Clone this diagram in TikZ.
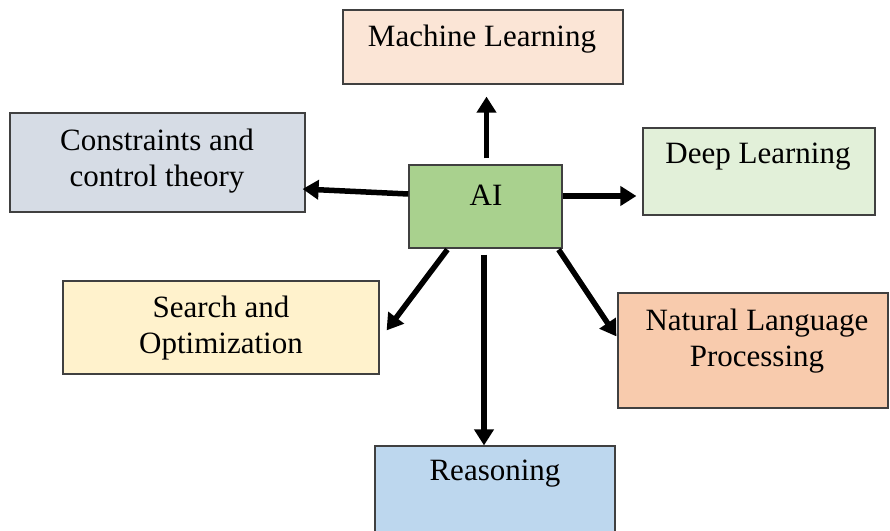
\documentclass[tikz,border=0pt]{standalone}
\usepackage{fontspec}
\setmainfont{Liberation Serif}
\usetikzlibrary{arrows.meta,calc}
\definecolor{cml}{HTML}{FBE5D6}
\definecolor{ccct}{HTML}{D6DCE5}
\definecolor{cai}{HTML}{A9D18E}
\definecolor{cdl}{HTML}{E2F0D9}
\definecolor{cso}{HTML}{FFF2CC}
\definecolor{cnlp}{HTML}{F8CBAD}
\definecolor{crs}{HTML}{BDD7EE}
\definecolor{edge}{HTML}{404040}
\begin{document}
\begin{tikzpicture}[x=1pt,y=-1pt,
  box/.style={draw=edge,line width=1.2pt,inner sep=0pt,rectangle},
  lbl/.style={font=\fontsize{31}{36}\selectfont,align=center,inner sep=0pt,text=black},
  arr/.style={line width=5.5pt,-{Triangle[length=16pt,width=19pt]}}]
\useasboundingbox (0,0) rectangle (890,530);
\fill[white] (0,0) rectangle (890,530);
\begin{scope}
\clip (0,0) rectangle (890,530);
\node[box,fill=cml,minimum width=280pt,minimum height=74pt] (ml) at (483,47) {};
\node[box,fill=ccct,minimum width=295pt,minimum height=99pt] (cct) at (157.5,162.5) {};
\node[box,fill=cai,minimum width=153pt,minimum height=83pt] (ai) at (485.5,206.5) {};
\node[box,fill=cdl,minimum width=232pt,minimum height=87pt] (dl) at (759,171.5) {};
\node[box,fill=cso,minimum width=316pt,minimum height=93pt] (so) at (221,327.5) {};
\node[box,fill=cnlp,minimum width=270pt,minimum height=115pt] (nlp) at (753,350.5) {};
\node[box,fill=crs,minimum width=240pt,minimum height=100pt] (rs) at (495,496) {};

\node[lbl] (tml) at (482,39) {Machine Learning};
\node[lbl] (tcct) at (157,161) {Constraints and\\control theory};
\node[lbl] (tai) at (486,195) {AI};
\node[lbl] (tdl) at (758,157) {Deep Learning};
\node[lbl] (tso) at (221,328) {Search and\\Optimization};
\node[lbl] (tnlp) at (757,341) {Natural Language\\Processing};
\node[lbl] (trs) at (495,474) {Reasoning};

\draw[arr,shorten <=6pt,shorten >=12pt] ([xshift=1pt]ai.north) -- ([xshift=1pt]ai.north |- ml.south);
\draw[arr] ([yshift=12.5pt]ai.west) -- ([xshift=-3pt,yshift=-26.5pt]cct.east);
\draw[arr,shorten >=6pt] ([yshift=10.5pt]ai.east) -- ([yshift=-24.5pt]dl.west);
\draw[arr] ([xshift=39pt,yshift=-1pt]ai.south west) -- ([xshift=7pt,yshift=-50pt]so.north east);
\draw[arr,shorten <=6pt] ([xshift=-1.5pt]ai.south) -- ([xshift=-1.5pt]ai.south |- rs.north);
\draw[arr] ([xshift=-4pt,yshift=-1pt]ai.south east) -- ([xshift=-1pt,yshift=-44pt]nlp.north west);
\end{scope}
\end{tikzpicture}
\end{document}
